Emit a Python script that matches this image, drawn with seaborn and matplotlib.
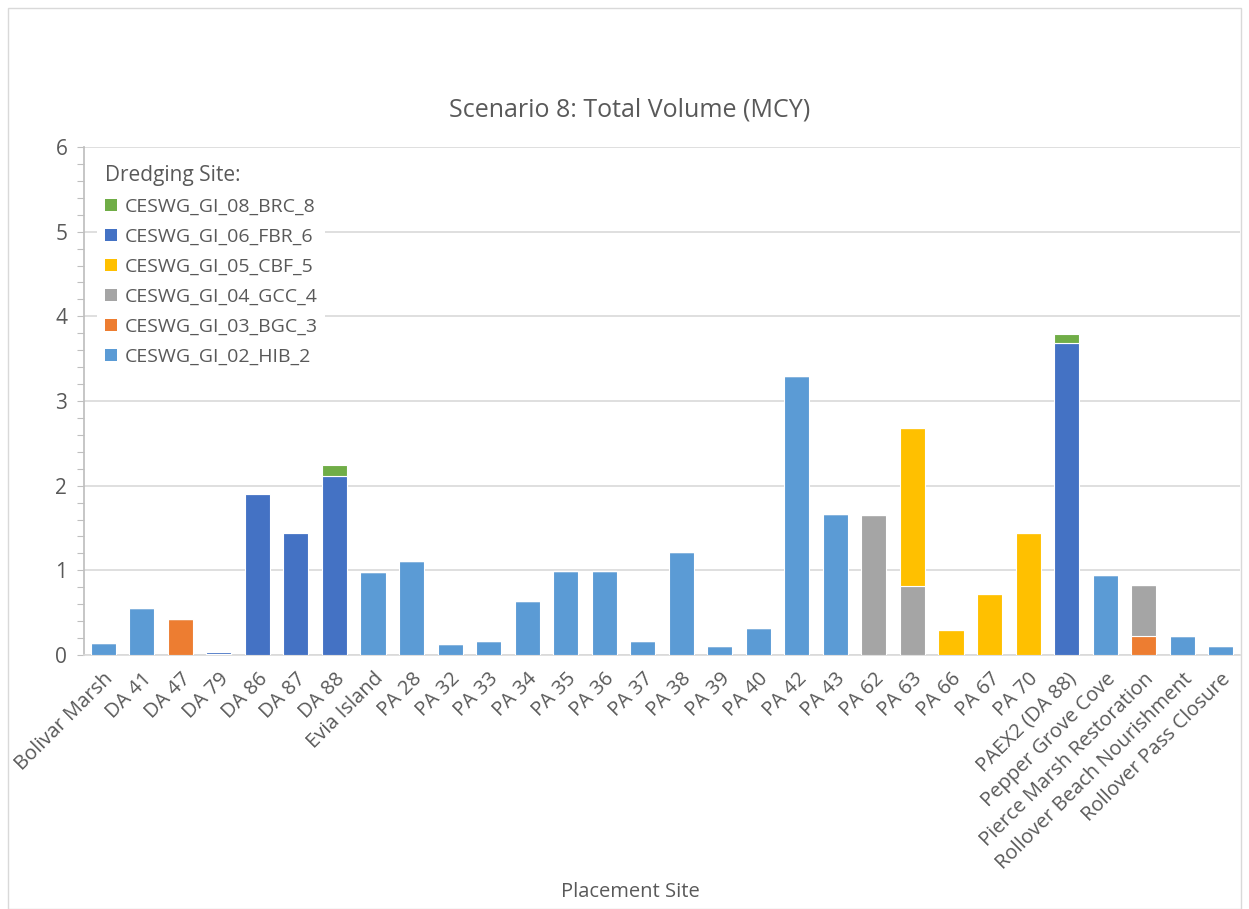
import numpy as np
import pandas as pd
import matplotlib
matplotlib.use("Agg")
import matplotlib.pyplot as plt
import seaborn as sns
from matplotlib.patches import Patch, Rectangle
from matplotlib.ticker import MultipleLocator

sites = [
    "Bolivar Marsh", "DA 41", "DA 47", "DA 79", "DA 86", "DA 87", "DA 88",
    "Evia Island", "PA 28", "PA 32", "PA 33", "PA 34", "PA 35", "PA 36",
    "PA 37", "PA 38", "PA 39", "PA 40", "PA 42", "PA 43", "PA 62", "PA 63",
    "PA 66", "PA 67", "PA 70", "PAEX2 (DA 88)", "Pepper Grove Cove",
    "Pierce Marsh Restoration", "Rollover Beach Nourishment",
    "Rollover Pass Closure",
]

# Volumes (MCY) per dredging site, in stacking order from the bottom up
hib_2 = [0.14, 0.55, 0, 0, 0, 0, 0, 0.98, 1.11, 0.13, 0.17, 0.64, 0.99, 0.99,
         0.17, 1.22, 0.11, 0.32, 3.30, 1.66, 0, 0, 0, 0, 0, 0, 0.94, 0, 0.22, 0.11]
bgc_3 = [0, 0, 0.43, 0, 0, 0, 0, 0, 0, 0, 0, 0, 0, 0,
         0, 0, 0, 0, 0, 0, 0, 0, 0, 0, 0, 0, 0, 0.22, 0, 0]
gcc_4 = [0, 0, 0, 0, 0, 0, 0, 0, 0, 0, 0, 0, 0, 0,
         0, 0, 0, 0, 0, 0, 1.65, 0.82, 0, 0, 0, 0, 0, 0.61, 0, 0]
cbf_5 = [0, 0, 0, 0.01, 0, 0, 0, 0, 0, 0, 0, 0, 0, 0,
         0, 0, 0, 0, 0, 0, 0, 1.86, 0.30, 0.72, 1.44, 0, 0, 0, 0, 0]
fbr_6 = [0, 0, 0, 0.02, 1.90, 1.44, 2.11, 0, 0, 0, 0, 0, 0, 0,
         0, 0, 0, 0, 0, 0, 0, 0, 0, 0, 0, 3.69, 0, 0, 0, 0]
brc_8 = [0, 0, 0, 0, 0, 0, 0.14, 0, 0, 0, 0, 0, 0, 0,
         0, 0, 0, 0, 0, 0, 0, 0, 0, 0, 0, 0.10, 0, 0, 0, 0]

series_names = ["CESWG_GI_02_HIB_2", "CESWG_GI_03_BGC_3", "CESWG_GI_04_GCC_4",
                "CESWG_GI_05_CBF_5", "CESWG_GI_06_FBR_6", "CESWG_GI_08_BRC_8"]
series_values = [hib_2, bgc_3, gcc_4, cbf_5, fbr_6, brc_8]
series_colors = ["#5B9BD5", "#ED7D31", "#A5A5A5", "#FFC000", "#4472C4", "#70AD47"]

sns.set_theme(style="white")
plt.rcParams["font.family"] = ["Open Sans", "DejaVu Sans"]
text_color = "#595959"

fig = plt.figure(figsize=(12.49, 9.09), dpi=100)
ax = fig.add_axes([84 / 1249, 1 - 655 / 909, (1240 - 84) / 1249, (655 - 147) / 909])

bottom = np.zeros(len(sites))
for name, vals, color in zip(series_names, series_values, series_colors):
    df = pd.DataFrame({"site": sites, "volume": vals})
    sns.barplot(data=df, x="site", y="volume", order=sites, color=color,
                bottom=bottom.copy(), width=0.65, edgecolor="white",
                linewidth=0.8, saturation=1, ax=ax, zorder=3)
    bottom += np.array(vals)

ax.set_xlim(-0.5, len(sites) - 0.5)
ax.set_ylim(0, 6)
ax.yaxis.set_major_locator(MultipleLocator(1))
ax.yaxis.set_minor_locator(MultipleLocator(0.2))
ax.grid(axis="y", which="major", color="#D9D9D9", linewidth=1.2, zorder=0)
ax.set_axisbelow(True)

for side in ["top", "right"]:
    ax.spines[side].set_visible(False)
ax.spines["left"].set_color("#BFBFBF")
ax.spines["bottom"].set_color("#D9D9D9")
ax.spines["bottom"].set_linewidth(1.2)

ax.tick_params(axis="y", which="both", left=True, direction="out",
               length=5, width=0.8, color="#BFBFBF", labelsize=15,
               labelcolor=text_color, pad=7)
ax.tick_params(axis="x", bottom=False, labelsize=14.5, labelcolor=text_color, pad=4)
plt.setp(ax.get_xticklabels(), rotation=45, ha="right", rotation_mode="anchor")

ax.set_ylabel("")
ax.set_xlabel("Placement Site", fontsize=14.5, color=text_color)
ax.xaxis.set_label_coords(0.473, -(882 - 655) / (655 - 147))

fig.text(0.5045, 1 - 110 / 909, "Scenario 8: Total Volume (MCY)",
         ha="center", va="center", fontsize=18, color=text_color)

handles = [Patch(facecolor=c, edgecolor="none", label=n)
           for n, c in zip(series_names, series_colors)][::-1]
leg = ax.legend(handles=handles, title="Dredging Site:", loc="upper left",
                bbox_to_anchor=(0.003, 1.0), frameon=True, fontsize=14,
                title_fontsize=15, handlelength=0.6, handleheight=0.6,
                handletextpad=0.4, labelspacing=0.62, borderpad=0.4)
leg.get_frame().set_facecolor("white")
leg.get_frame().set_edgecolor("none")
leg.get_frame().set_alpha(1)
leg._legend_box.align = "left"
leg.get_title().set_color(text_color)
for t in leg.get_texts():
    t.set_color(text_color)
leg.set_zorder(5)

fig.patches.append(Rectangle((8 / 1249, 0), 1 - 16 / 1249, 1 - 8 / 909,
                             transform=fig.transFigure, fill=False,
                             edgecolor="#D9D9D9", linewidth=1))

fig.savefig("out.png", dpi=100, facecolor="white")
